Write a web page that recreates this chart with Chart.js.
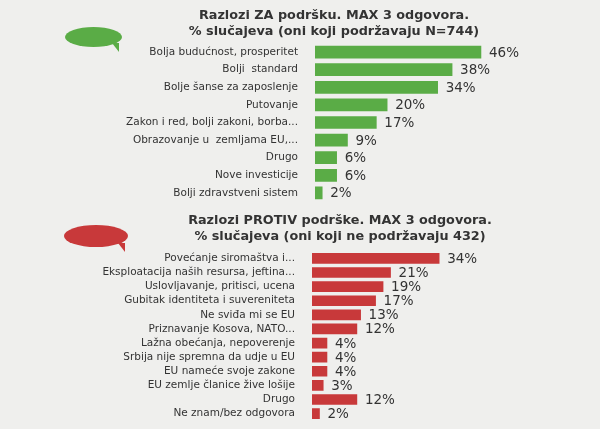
<!DOCTYPE html>
<html>
<head>
<meta charset="utf-8">
<script src="https://cdn.jsdelivr.net/npm/chart.js@4"></script>
<style>
  body { margin: 0; width: 600px; height: 429px; background: #efefed; position: relative; overflow: hidden; font-family: "DejaVu Sans", sans-serif; }
  .title { position: absolute; width: 400px; text-align: center; font-weight: bold; font-size: 12.8px; color: #333; line-height: 16px; z-index: 2; }
  .bubble { position: absolute; border-radius: 50%; z-index: 2; }
  .bubble::after { content: ""; position: absolute; right: 3px; bottom: -5px; border-left: 7px solid transparent; border-top: 9px solid; border-top-color: inherit; }
  canvas { position: absolute; left: 0; }
</style>
</head>
<body>
<div class="title" style="left:134px;top:7px">Razlozi ZA podršku. MAX 3 odgovora.<br>% slučajeva (oni koji podržavaju N=744)</div>
<div class="bubble" style="left:65px;top:27px;width:57px;height:20px;background:#5aac46;border-color:#5aac46"></div>
<canvas id="za" width="600" height="189" style="top:28px"></canvas>
<div class="title" style="left:140px;top:212px">Razlozi PROTIV podrške. MAX 3 odgovora.<br>% slučajeva (oni koji ne podržavaju 432)</div>
<div class="bubble" style="left:64px;top:225px;width:64px;height:22px;background:#c8393a;border-color:#c8393a"></div>
<canvas id="protiv" width="600" height="200" style="top:236px"></canvas>
<script>
const zaLabels = ["Bolja budućnost, prosperitet", "Bolji  standard", "Bolje šanse za zaposlenje", "Putovanje", "Zakon i red, bolji zakoni, borba...", "Obrazovanje u  zemljama EU,...", "Drugo", "Nove investicije", "Bolji zdravstveni sistem"];
const zaValues = [46, 38, 34, 20, 17, 9, 6, 6, 2];

const protivLabels = ["Povećanje siromaštva i...", "Eksploatacija naših resursa, jeftina...", "Uslovljavanje, pritisci, ucena", "Gubitak identiteta i suvereniteta", "Ne sviđa mi se EU", "Priznavanje Kosova, NATO...", "Lažna obećanja, nepoverenje", "Srbija nije spremna da udje u EU", "EU nameće svoje zakone", "EU zemlje članice žive lošije", "Drugo", "Ne znam/bez odgovora"];
const protivValues = [34, 21, 19, 17, 13, 12, 4, 4, 4, 3, 12, 2];

const valueLabels = {
    id: "valueLabels",
    afterDatasetsDraw(chart) {
        const ctx = chart.ctx;
        ctx.save();
        ctx.font = "13.5px 'DejaVu Sans'";
        ctx.fillStyle = "#333";
        ctx.textBaseline = "middle";
        chart.getDatasetMeta(0).data.forEach((bar, i) => {
            ctx.fillText(chart.data.datasets[0].data[i] + "%", bar.x + 8, bar.y + 1);
        });
        ctx.restore();
    }
};

function makeChart(id, labels, values, color, leftWidth, max, thickness) {
    new Chart(document.getElementById(id), {
        type: "bar",
        data: {
            labels: labels,
            datasets: [{ data: values, backgroundColor: color, barThickness: thickness }]
        },
        options: {
            indexAxis: "y",
            responsive: false,
            animation: false,
            devicePixelRatio: 1,
            layout: { padding: 0 },
            plugins: { legend: { display: false }, tooltip: { enabled: false } },
            scales: {
                x: { display: false, min: 0, max: max },
                y: {
                    afterFit(scale) { scale.width = leftWidth; },
                    grid: { display: false },
                    border: { display: false },
                    ticks: { autoSkip: false, color: "#333", font: { family: "DejaVu Sans", size: 10.5 }, padding: 9 }
                }
            }
        },
        plugins: [valueLabels]
    });
}

makeChart("za", zaLabels, zaValues, "#5aac46", 315, 79, 12);
makeChart("protiv", protivLabels, protivValues, "#c8393a", 312, 77, 10);
</script>
</body>
</html>
